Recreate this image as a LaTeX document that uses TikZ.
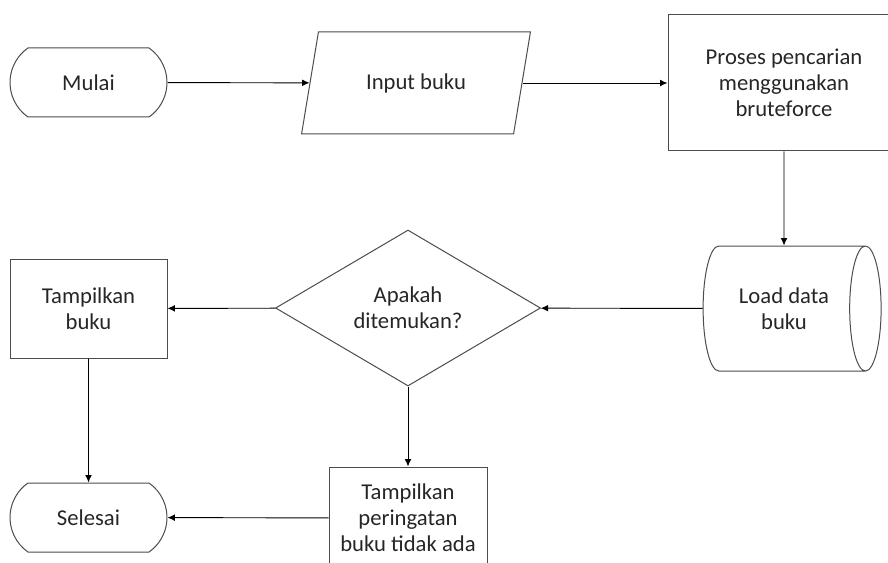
\documentclass[tikz,border=0pt]{standalone}
\usepackage{fontspec}
\setmainfont{Carlito}
\usepackage{tikz}
\usetikzlibrary{arrows.meta, shapes.geometric, shapes.misc}

\begin{document}
\begin{tikzpicture}[x=0.75pt, y=-0.75pt,
        base/.style={draw=black!70, line width=0.75pt, align=center, text=black!85,
            font=\fontsize{17}{19.5}\selectfont, inner sep=0pt},
        terminal/.style={base, rounded rectangle, rounded rectangle arc length=110,
            minimum width=117.75pt, minimum height=51.75pt},
        process/.style={base, rectangle},
        inputbox/.style={base, trapezium, trapezium left angle=66, trapezium right angle=114,
            trapezium stretches=true, minimum width=173pt, minimum height=76.5pt},
        decision/.style={base, diamond, aspect=1.7, minimum width=198.75pt, minimum height=117pt},
        datastore/.style={base, cylinder, shape aspect=0.75,
            minimum width=93.75pt, minimum height=133.5pt},
        flow/.style={-{Latex[length=5.5pt,width=5pt]}, line width=0.7pt}]
        \useasboundingbox (0,0) rectangle (888,563);
        \clip (0,0) rectangle (888,563);
        %\draw[fill=white] (0,0) rectangle (888,563);

        % top row
        \node[terminal] (mulai) at (88.5,82.5) {Mulai};
        \node[inputbox] (input) at (416,83) {Input buku};
        \node[process, minimum width=174pt, minimum height=102pt] (proses) at (784,83)
            {Proses pencarian\\menggunakan\\bruteforce};

        % middle row
        \node[datastore] (load) at (784,308.5) {Load data\\buku};
        \node[decision] (cek) at (408,308) {Apakah\\ditemukan?};
        \node[process, minimum width=117.75pt, minimum height=74.25pt] (tampil) at (88.5,308.5)
            {Tampilkan\\buku};

        % bottom row
        \node[terminal] (selesai) at (88.5,517.5) {Selesai};
        \node[process, minimum width=118.5pt, minimum height=76.5pt] (peringatan) at (408,518)
            {Tampilkan\\peringatan\\buku tidak ada};

        \draw[flow] (mulai) -- (input);
        \draw[flow] (input) -- (proses);
        \draw[flow] (proses) -- (load);
        \draw[flow] (load) -- (cek);
        \draw[flow] (cek) -- (tampil);
        \draw[flow] (tampil) -- (selesai);
        \draw[flow] (cek) -- (peringatan);
        \draw[flow] (peringatan) -- (selesai);
\end{tikzpicture}
\end{document}
